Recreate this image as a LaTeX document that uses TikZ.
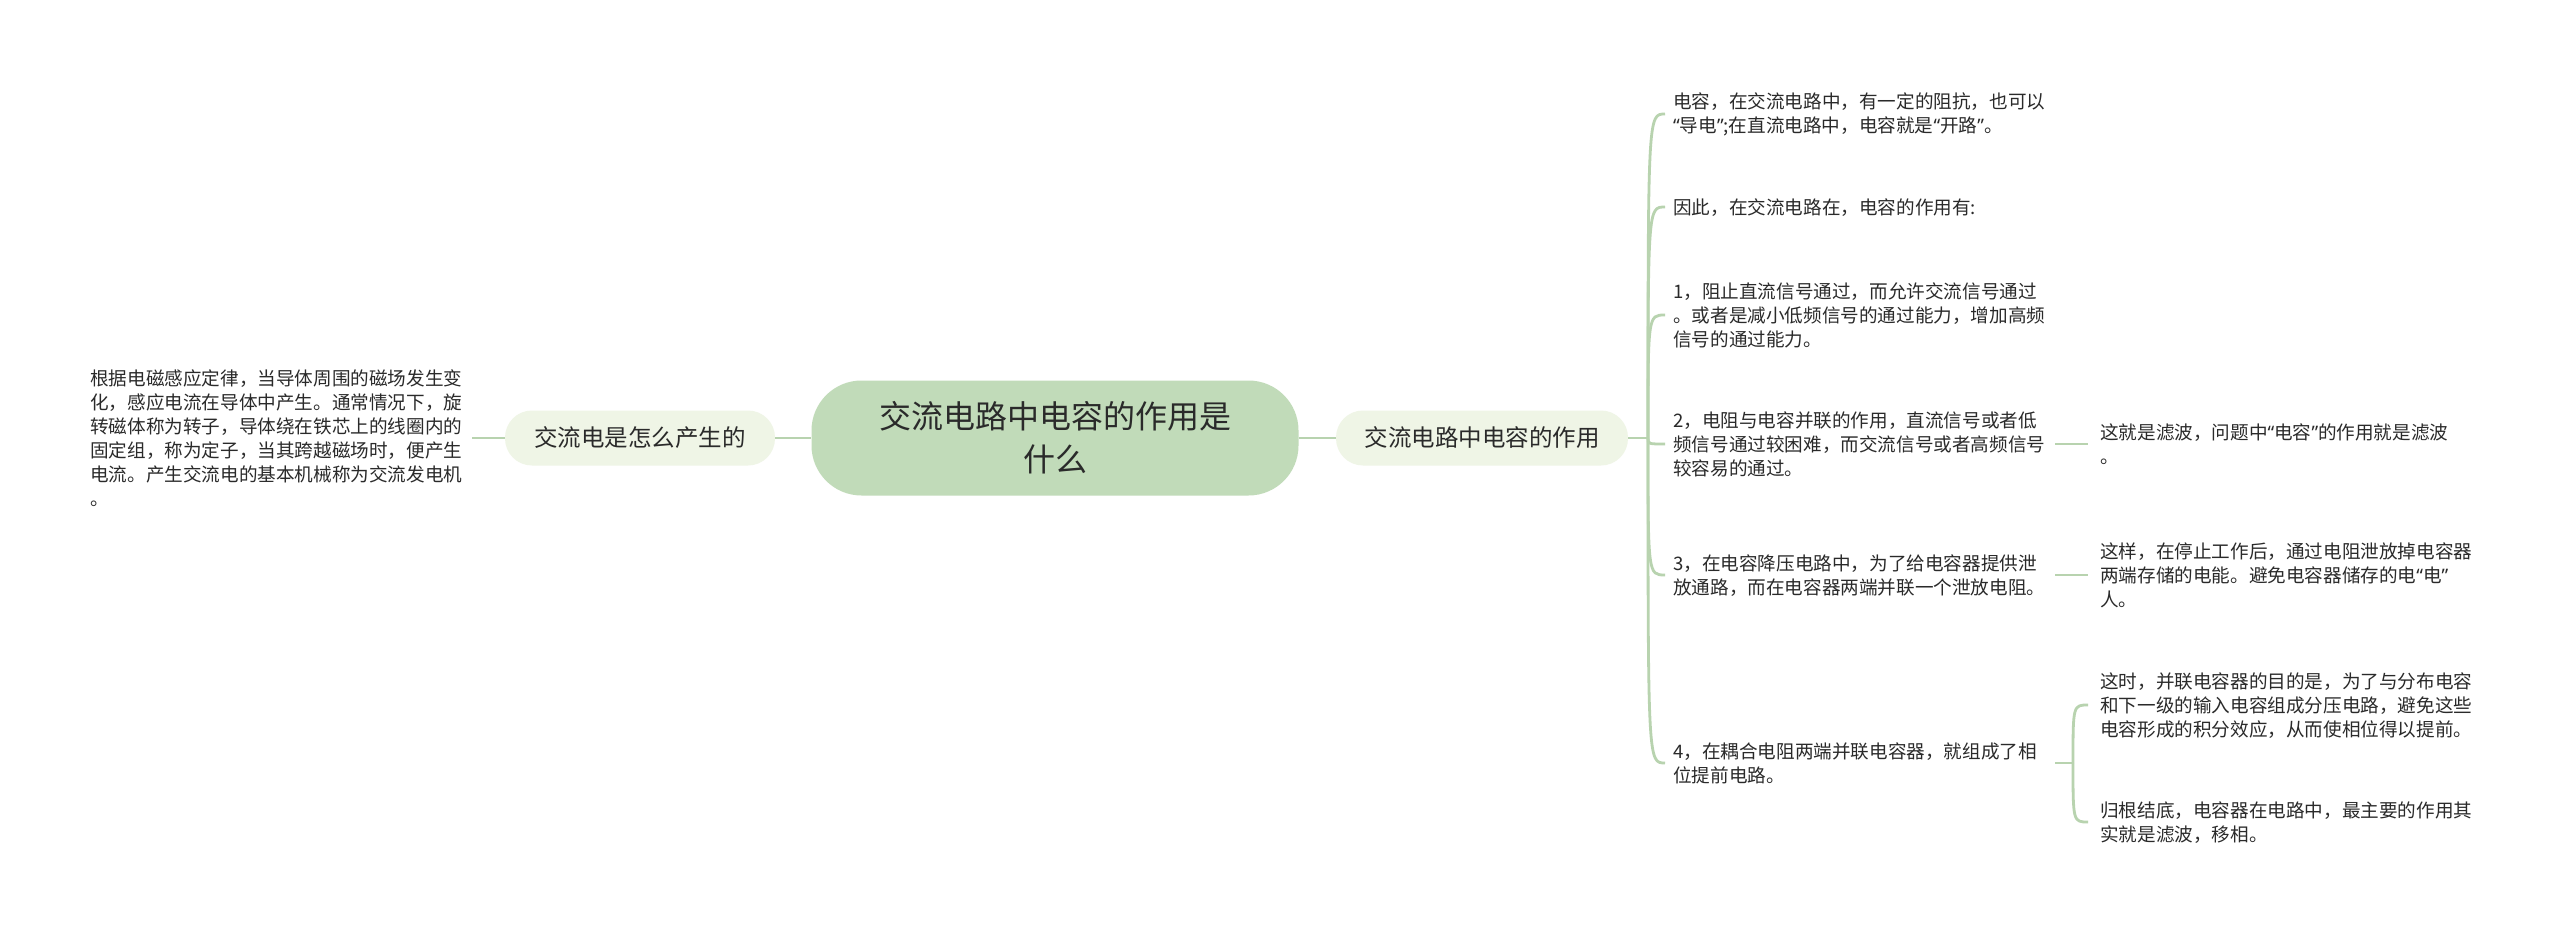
\documentclass[tikz,border=0pt]{standalone}
\usepackage{fontspec}
\newfontfamily\cjkf{Noto Sans CJK SC}
\newfontfamily\latf{Noto Sans}
\newcommand\qo{{\latf “}}
\newcommand\qc{{\latf ”}}
\newcommand\lnst{\rule[-0.12em]{0pt}{1em}}
\definecolor{rootfill}{HTML}{C1DBB9}
\definecolor{brfill}{HTML}{EFF5E6}
\definecolor{lnc}{HTML}{B8D3AF}
\definecolor{txt}{HTML}{2A2A2A}
\begin{document}
\begin{tikzpicture}[x=1pt,y=-1pt,
  leaf/.style={font=\cjkf\fontsize{18.6}{24}\selectfont, text=txt, align=left,
    text width=374pt, inner xsep=8pt, inner ysep=0pt, anchor=west},
  sub/.style={leaf, inner xsep=12pt},
  rootbox/.style={fill=rootfill, rounded corners=50pt, minimum width=487pt,
    minimum height=115pt, align=center, text=txt, inner sep=0pt,
    font=\cjkf\fontsize{32}{43}\selectfont},
  branch/.style={fill=brfill, rounded corners=27pt, minimum height=55pt,
    text=txt, inner sep=0pt, font=\cjkf\fontsize{23.5}{28}\selectfont},
  conn/.style={draw=lnc, line width=2.8pt}]
\useasboundingbox (0,0) rectangle (2560,936);
\fill[white] (0,0) rectangle (2560,936);

% central topic and branches
\node[rootbox] (root) at (1055,438) {\lnst 交流电路中电容的作用是\\\lnst 什么};
\node[branch, minimum width=270pt] (b1) at (640,438) {交流电是怎么产生的};
\node[branch, minimum width=292pt] (b2) at (1482,438) {交流电路中电容的作用};

% left leaf
\node[leaf] (l0) at (82,438) {\lnst 根据电磁感应定律，当导体周围的磁场发生变\\
\lnst 化，感应电流在导体中产生。通常情况下，旋\\
\lnst 转磁体称为转子，导体绕在铁芯上的线圈内的\\
\lnst 固定组，称为定子，当其跨越磁场时，便产生\\
\lnst 电流。产生交流电的基本机械称为交流发电机\\
\lnst 。};

% right leaves
\node[leaf] (l1) at (1665,114) {\lnst 电容，在交流电路中，有一定的阻抗，也可以\\
\lnst \qo 导电\qc;在直流电路中，电容就是\qo 开路\qc 。};
\node[leaf] (l2) at (1665,207) {\lnst 因此，在交流电路在，电容的作用有:};
\node[leaf] (l3) at (1665,315) {\lnst 1，阻止直流信号通过，而允许交流信号通过\\
\lnst 。或者是减小低频信号的通过能力，增加高频\\
\lnst 信号的通过能力。};
\node[leaf] (l4) at (1665,444) {\lnst 2，电阻与电容并联的作用，直流信号或者低\\
\lnst 频信号通过较困难，而交流信号或者高频信号\\
\lnst 较容易的通过。};
\node[leaf] (l5) at (1665,575) {\lnst 3，在电容降压电路中，为了给电容器提供泄\\
\lnst 放通路，而在电容器两端并联一个泄放电阻。};
\node[leaf] (l6) at (1665,763) {\lnst 4，在耦合电阻两端并联电容器，就组成了相\\
\lnst 位提前电路。};

% second-level leaves
\node[sub] (f1) at (2088,444) {\lnst 这就是滤波，问题中\qo 电容\qc 的作用就是滤波\\
\lnst 。};
\node[sub] (f2) at (2088,575) {\lnst 这样，在停止工作后，通过电阻泄放掉电容器\\
\lnst 两端存储的电能。避免电容器储存的电\qo 电\qc\\
\lnst 人。};
\node[sub] (f3) at (2088,705) {\lnst 这时，并联电容器的目的是，为了与分布电容\\
\lnst 和下一级的输入电容组成分压电路，避免这些\\
\lnst 电容形成的积分效应，从而使相位得以提前。};
\node[sub] (f4) at (2088,822) {\lnst 归根结底，电容器在电路中，最主要的作用其\\
\lnst 实就是滤波，移相。};

% connectors
\draw[conn] (l0.east) -- (b1.west);
\draw[conn] (b1.east) -- (root.west);
\draw[conn] (root.east) -- (b2.west);
\coordinate (j1) at (1648,438);
\draw[conn] (b2.east) -- (j1);
\foreach \n in {l1,l2,l3,l4,l5,l6}{
  \draw[conn] (j1) .. controls (j1 |- \n.west) and (j1 |- \n.west) .. (\n.west);
}
\draw[conn] (l4.east) -- (f1.west);
\draw[conn] (l5.east) -- (f2.west);
\coordinate (j2) at (2073,763);
\draw[conn] (l6.east) -- (j2);
\foreach \n in {f3,f4}{
  \draw[conn] (j2) .. controls (j2 |- \n.west) and (j2 |- \n.west) .. (\n.west);
}
\end{tikzpicture}
\end{document}
